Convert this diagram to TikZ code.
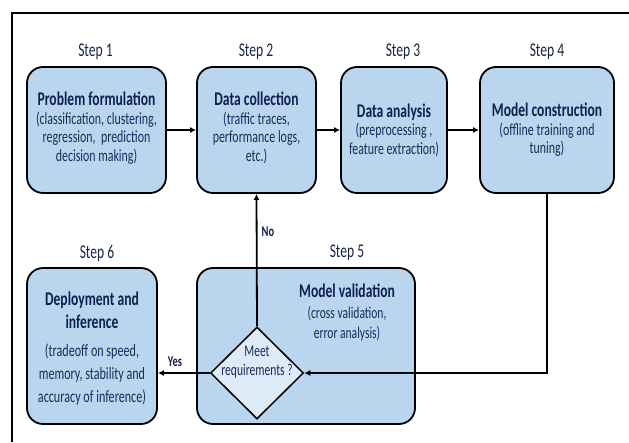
\documentclass[tikz,border=0pt]{standalone}
\usepackage{fontspec}
\setmainfont[FakeStretch=0.7]{Carlito}
\usetikzlibrary{arrows.meta,shapes.geometric}
\definecolor{boxfill}{HTML}{BAD5EE}
\definecolor{diafill}{HTML}{DEEBF7}
\definecolor{navy}{HTML}{111F50}
\definecolor{bodynavy}{HTML}{182B5E}
\definecolor{stepcol}{HTML}{1A2548}
\tikzset{
  stepbox/.style={draw=black, line width=1.8pt, fill=boxfill, rounded corners=16pt, inner sep=0pt},
  steplabel/.style={text=stepcol, font=\fontsize{19.4}{22}\selectfont, inner sep=0pt, anchor=base},
  boxtext/.style={align=center, inner sep=0pt, text=bodynavy},
  topfont/.style={font=\fontsize{17}{18.5}\selectfont},
  botfont/.style={font=\fontsize{17.3}{23}\selectfont},
  conn/.style={line width=1.8pt, -{Latex[length=6pt,width=6pt]}},
  yesno/.style={font=\bfseries\fontsize{15}{17}\selectfont, text=navy, inner sep=0pt},
}
\newcommand{\ttl}[1]{{\bfseries\fontsize{19.4}{18.5}\selectfont\color{navy}#1}}
\begin{document}
\begin{tikzpicture}[x=1pt,y=-1pt]
\useasboundingbox (0,0) rectangle (629,442);
% frame
\coordinate (fbl) at (12,442);
\coordinate (ftl) at (12,13);
\coordinate (ftr) at (629,13);
\draw[line width=2.5pt] (fbl) -- (ftl) -- (ftr);
% boxes
\node[stepbox, minimum width=139pt, minimum height=126pt] (b1) at (96.5,130) {};
\node[stepbox, minimum width=119pt, minimum height=126pt] (b2) at (256.5,130) {};
\node[stepbox, minimum width=106pt, minimum height=126pt] (b3) at (394,130) {};
\node[stepbox, minimum width=134pt, minimum height=126pt] (b4) at (547,130) {};
\node[stepbox, minimum width=130pt, minimum height=156pt] (b6) at (92,346) {};
\node[stepbox, minimum width=218pt, minimum height=156pt] (b5) at (306,346) {};
% step labels
\node[steplabel] (s1) at (95.5,56) {Step 1};
\node[steplabel] (s2) at (256,56) {Step 2};
\node[steplabel] (s3) at (403,56) {Step 3};
\node[steplabel] (s4) at (547,56) {Step 4};
\node[steplabel] (s5) at (347,257) {Step 5};
\node[steplabel] (s6) at (97,258) {Step 6};
% box texts
\node[boxtext, topfont] (t1) at (96.5,128) {\ttl{Problem formulation}\\(classification, clustering,\\regression,\ \ prediction\\decision making)};
\node[boxtext, topfont] (t2) at (256.5,128) {\ttl{Data collection}\\(traffic traces,\\performance logs,\\etc.)};
\node[boxtext, topfont] (t3) at (394,130) {\ttl{Data analysis}\\(preprocessing ,\\feature extraction)};
\node[boxtext, topfont] (t4) at (547,130) {\ttl{Model construction}\\(offline training and\\tuning)};
\node[boxtext, botfont] (t6) at (92,349) {\ttl{Deployment and}\\\ttl{inference}\\[5pt](tradeoff on speed,\\memory, stability and\\accuracy of inference)};
\node[boxtext, font=\fontsize{16.5}{20.5}\selectfont] (t5) at (347,313) {\ttl{Model validation}\\(cross validation,\\error analysis)};
% decision
\node[draw=black, line width=1.5pt, fill=diafill, shape=diamond, minimum width=93pt, minimum height=92pt, inner sep=0pt] (d) at (257,373) {};
\node[boxtext, font=\fontsize{16.5}{19}\selectfont] (dt) at (257,362) {Meet\\requirements ?};
% connectors
\draw[conn] (b1) -- (b2);
\draw[conn] (b2) -- (b3);
\draw[conn] (b3) -- (b4);
\draw[conn] (b4.south) |- (d.east);
\draw[conn] (d.north) -- (b2.south);
\draw[conn] (d.west) -- (d.west -| b6.east);
\node[yesno] (no) at (268,232) {No};
\node[yesno] (yes) at (175,362) {Yes};
\end{tikzpicture}
\end{document}
